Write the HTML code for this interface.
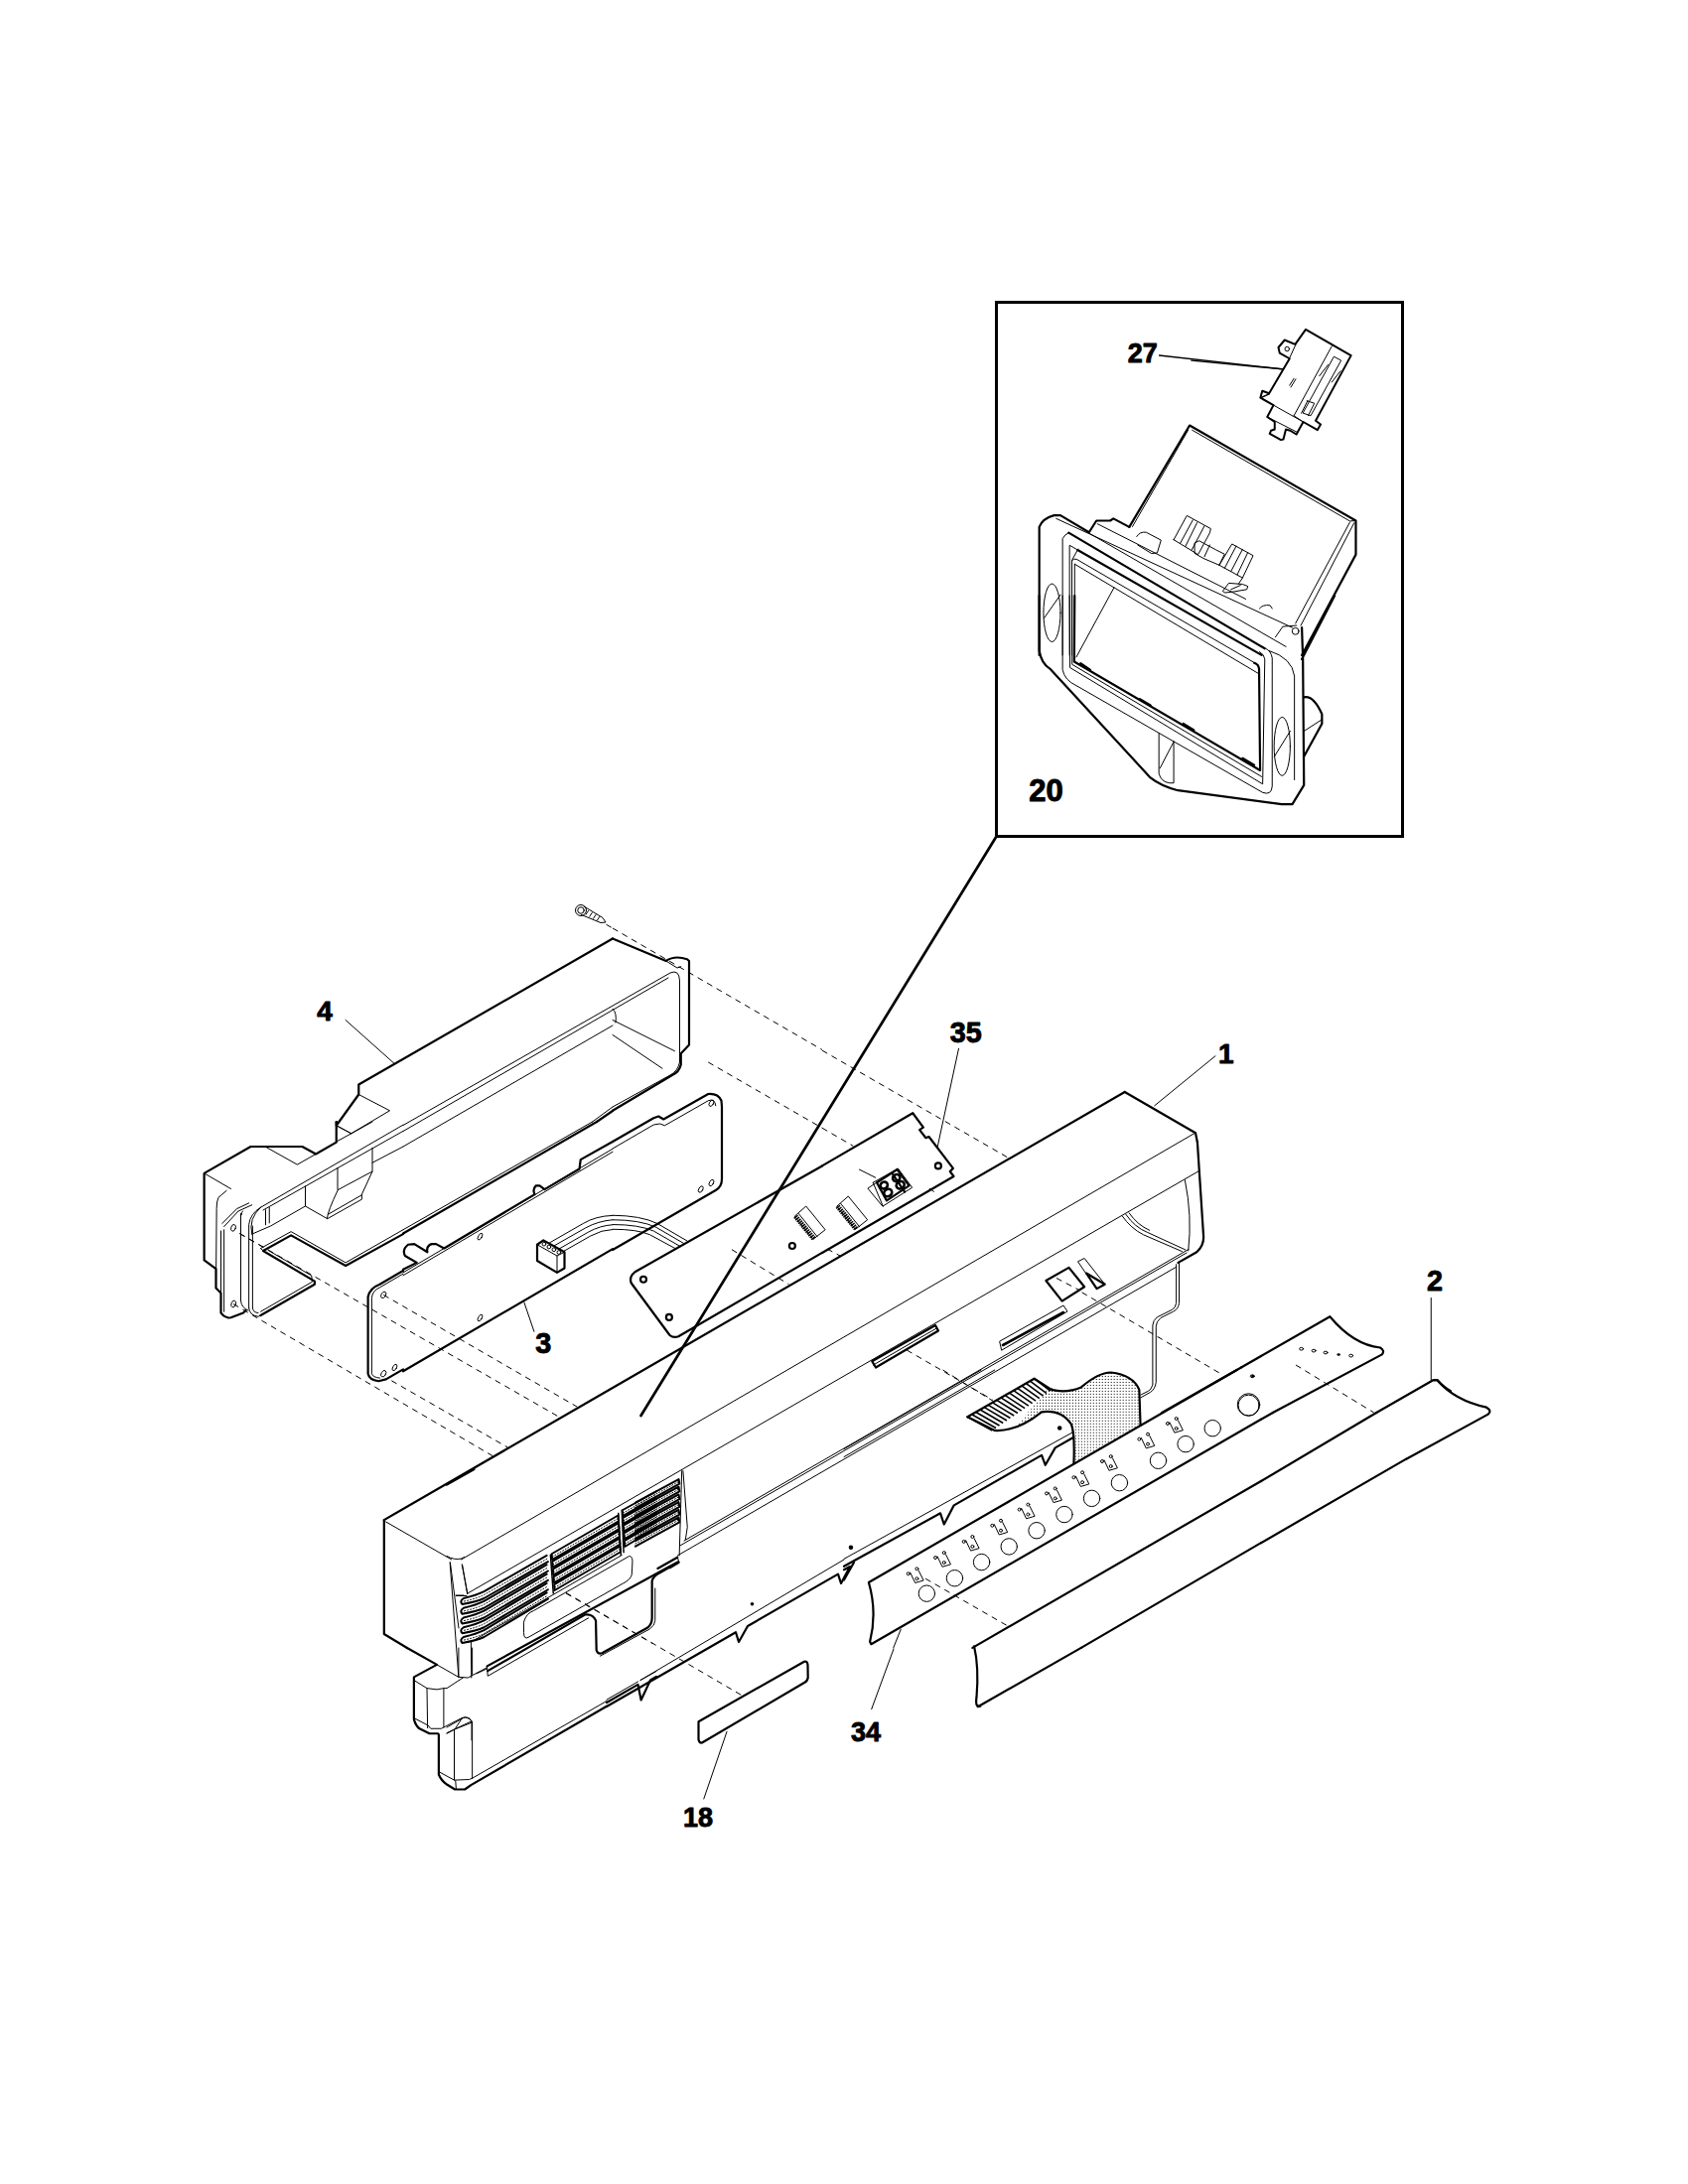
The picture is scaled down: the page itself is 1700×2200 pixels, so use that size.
<!DOCTYPE html>
<html><head><meta charset="utf-8">
<style>
html,body{margin:0;padding:0;background:#fff;}
svg{display:block;}
.k{fill:none;stroke:#000;stroke-width:2.2;stroke-linejoin:round;stroke-linecap:round;vector-effect:non-scaling-stroke;}
.t{fill:none;stroke:#000;stroke-width:1;stroke-linejoin:round;stroke-linecap:round;vector-effect:non-scaling-stroke;}
.d{fill:none;stroke:#000;stroke-width:1;stroke-dasharray:6 5;vector-effect:non-scaling-stroke;}
.lab{font-family:"Liberation Sans",sans-serif;font-weight:bold;fill:#000;stroke:#000;stroke-width:0.9px;vector-effect:non-scaling-stroke;stroke-linejoin:round;}
</style></head>
<body>
<svg width="1700" height="2200" viewBox="0 0 1700 2200">
<defs><pattern id="dots" width="24" height="24" patternUnits="userSpaceOnUse"><rect x="0" y="0" width="8" height="8" fill="#000"/><rect x="12" y="12" width="8" height="8" fill="#000"/></pattern><pattern id="dots4" width="12" height="12" patternUnits="userSpaceOnUse"><rect x="0" y="0" width="4" height="4" fill="#000"/></pattern></defs>
<rect x="0" y="0" width="1700" height="2200" fill="#fff"/>
<!-- INSET BOX -->
<rect x="1003.5" y="304.5" width="409" height="538" fill="none" stroke="#000" stroke-width="3"/>
<!--INSET4X-->
<g transform="translate(995,298) scale(0.25)">
<text class="lab" x="563" y="268" font-size="108">27</text>
<text class="lab" x="165" y="2035" font-size="124">20</text>
<path class="t" style="stroke-width:1.3" d="M690,240 L1185,295"/>
</g>
<!--HOUSING_U-->
<g transform="translate(1020,420) scale(0.21326)">
<path class="k" d="M835,40 L1620,490 L1620,650 L1365,1125 M835,40 L550,520"/>
<path class="t" d="M847,62 L1592,492 L1620,490 M828,62 L565,518 M1592,497 L1335,975 M1612,500 L1360,985"/>
<path class="k" d="M125,1125 L125,520 Q140,480 195,465 L225,465 L360,545 L395,490 L460,490 L475,480 L550,520"/>
<path class="t" d="M205,480 L1320,995 M400,505 L1100,860"/>
<path class="t" d="M585,565 Q600,540 630,545 L700,582 L682,642 L655,645 L590,605"/>
<path class="t" d="M360,549 L1290,1085"/>
<path class="k" d="M264,547 L1190,1094"/>
<path class="t" d="M235,1125 L235,575 Q245,555 264,547"/>
<path class="t" d="M268,1125 L268,606 L306,628"/>
<path class="k" d="M306,628 L1175,1125"/>
<path class="t" d="M279,1125 L279,678 L308,624 M292,1125 L292,695 M279,678 Q288,668 301,672 L1160,1172 M292,695 L1160,1212 M478,806 L300,1134"/>
<ellipse class="t" cx="185" cy="925" rx="40" ry="137"/>
<path class="t" d="M148,950 L225,840"/>
<path class="t" d="M760,580 L822,466 L935,528 L930,548 L875,650 L760,580 Z M790,598 L850,487 M815,612 L870,500 M845,628 L905,515"/>
<path class="t" d="M860,595 L880,585 L960,628 L1000,648 L975,700 L900,668 L860,645 Z M905,660 L930,605"/>
<path class="t" d="M975,700 L1035,600 L1135,655 L1085,760 L975,700 Z M1000,715 L1055,610 M1030,730 L1085,625 M1060,745 L1110,640 M1085,760 L1065,790"/>
<path class="t" d="M992,822 L1020,785 L1085,790 L1110,800 L1105,815 L1045,825 L1005,830 Z M1030,815 L1075,795"/>
<path class="t" d="M1165,905 Q1180,885 1215,890 L1225,905 M1240,1040 L1275,990 L1340,985"/>
<circle class="t" cx="1335" cy="1012" r="16"/>
</g>
<!--HOUSING_L-->
<g transform="translate(1020,600) scale(0.21326)">
<path class="k" d="M125,0 L125,260 Q135,320 175,345 L650,860 Q700,900 780,920 L1270,985 L1320,985 L1375,895 L1370,300 L1365,150 M1520,0 L1365,300"/>
<path class="k" d="M1375,480 Q1420,470 1460,560 L1460,605 L1375,760"/>
<path class="t" d="M1460,585 L1375,640"/>
<path class="t" d="M235,0 L235,350 Q245,400 300,425 L1180,930 Q1222,945 1225,900 L1225,295 Q1220,262 1195,250 M1210,260 Q1320,295 1330,380 L1330,870"/>
<path class="t" d="M268,0 L270,340 L1180,890 L1190,300 Q1188,278 1165,265 M280,0 L280,325 L1175,855"/>
<path class="k" d="M292,0 L290,312 L1168,825 L1163,345 Q1160,325 1140,318"/>
<path class="k" d="M320,320 L365,350 M600,488 L650,518 M805,605 L855,635 M1085,768 L1140,800"/>
<ellipse class="t" cx="1272" cy="712" rx="38" ry="138"/>
<path class="t" d="M1235,760 L1310,640 M690,650 L690,840 Q700,880 740,885 L760,885 L760,690 M695,815 L760,690"/>
</g>
<!--SWITCH8X-->
<g transform="translate(1200,320) scale(0.125)">
<path class="k" style="stroke-width:2" d="M920,95 L1285,305 L1000,830 L1040,860 L1015,905 L900,840 L845,940 L795,910 L760,900 L740,980 L720,985 L630,935 L640,910 L670,900 L670,840 L610,800 L660,705 L555,645 L570,590 L625,610 L790,330 L710,285 L700,240 L750,180 L835,215 Z"/>
<path class="k" style="stroke-width:1.5" d="M625,615 L560,645 M0,345 L735,415"/>
<circle class="t" cx="770" cy="252" r="18"/>
<path class="t" d="M1130,230 L825,790 M840,215 L790,325 M660,705 L900,840 M610,800 L845,920 M825,790 L900,840 M795,910 L840,940"/>
<path class="t" d="M1150,315 L1205,345 L960,790 L900,770 Z M1100,380 L1030,470 M1200,430 L1130,520"/>
<path class="t" d="M800,560 L840,495 M790,545 L825,490"/>
<path class="t" d="M930,670 L990,690 L940,790 M885,770 L935,670"/>
</g>
<!--LEFTEND8X-->
<g transform="translate(195,1130) scale(0.125)">
<path class="k" d="M1150,0 L1150,165 L985,260 L875,200 L460,200 L85,415 L85,1115 L180,1185 L180,1340 L220,1380 L220,1540 Q240,1570 280,1580 L300,1578 L400,1540 L420,1520"/>
<path class="t" d="M85,415 L300,540 M585,205 L835,345 L985,260 M1150,30 L1270,95 L1440,0 M1150,160 L1270,95"/>
<path class="t" d="M540,690 L1688,25 M560,712 L1688,75 M1440,330 L1688,200 M1440,210 L1440,400 M1160,370 L1160,550 L1440,400 L1355,585 L1355,625 L1080,780 M1355,590 L1085,745 M1160,555 Q1080,720 1075,780 M900,520 L900,680 L1075,780 M900,680 L620,840 L470,905 M580,710 L580,830 M610,690 L610,815"/>
<path class="t" d="M470,905 Q440,780 540,690 M445,1500 L445,830 Q455,740 540,690 M475,1500 L475,840"/>
<path class="t" d="M445,1500 Q450,1560 520,1570 L540,1560 M475,1500 Q480,1540 520,1540"/>
<path class="k" d="M560,1040 L785,915 L1225,1160 L1688,905 M560,1040 L975,1285 L975,1310 L540,1560"/>
<path class="t" d="M540,1020 L785,885 L1225,1135 L1688,870 M540,1020 L560,1040 M600,1035 L950,1240 L955,1290 L540,1530"/>
<path class="t" d="M220,880 L220,1540 M245,870 L245,1530 M230,820 L350,700 L445,655 M245,845 L360,720 L470,670 M380,740 L380,1440 Q385,1500 440,1520 M395,720 Q385,730 385,750"/>
<path class="t" d="M265,555 L200,610 Q185,640 185,700 L180,1340"/>
<ellipse class="t" cx="320" cy="855" rx="18" ry="28" transform="rotate(20 320 855)"/>
<ellipse class="t" cx="322" cy="1468" rx="18" ry="28" transform="rotate(20 322 1468)"/>
<path class="d" d="M370,900 L560,1010"/>
<path class="k" d="M1688,1200 L1500,1310 Q1420,1340 1405,1410 L1405,2030 Q1415,2080 1490,2090 L1550,2075 L1688,1995"/>
<path class="t" d="M1688,1225 L1500,1335 Q1440,1360 1435,1420 L1435,2030 Q1445,2060 1500,2065"/>
<ellipse class="t" cx="1530" cy="1395" rx="18" ry="28" transform="rotate(30 1530 1395)"/>
<ellipse class="t" cx="1530" cy="2030" rx="18" ry="28" transform="rotate(30 1530 2030)"/>
<ellipse class="t" cx="1620" cy="1980" rx="15" ry="28" transform="rotate(30 1620 1980)"/>

</g>
<!--T1_4X-->
<g transform="translate(195,880) scale(0.25)">
<text class="lab" x="497" y="590" font-size="112">4</text>
<path class="t" d="M612,590 L808,765"/>
<path class="k" d="M665,850 L1688,262 M665,850 L665,890 L575,1015 L575,1000"/>
<path class="t" d="M665,890 L790,955 L635,1047 L575,1015"/>
<path class="t" d="M844,1100 L1688,612"/>
<circle class="t" cx="1560" cy="148" r="22"/><circle class="t" cx="1560" cy="148" r="13"/>
<path class="t" d="M1572,132 L1648,178 L1660,196 L1640,198 L1562,166 M1590,150 L1580,165 M1605,158 L1595,173 M1620,166 L1610,181 M1635,174 L1625,189"/>
<path class="d" d="M1662,205 L1688,220"/>
</g>
<!--T3_8X-->
<g transform="translate(406,1130) scale(0.125)">
<path class="t" d="M0,870 L1525,0"/>
<path class="k" d="M0,900 L1560,0"/>
<path class="k" d="M0,1190 L110,1135 L15,1080 Q-10,1030 40,990 L90,985 L195,1050 Q185,1000 230,985 L265,985 L330,1020 L1060,585 Q1040,545 1070,515 L1100,515 L1140,545 L1420,380 L1430,305 L1688,160"/>
<path class="t" d="M0,1238 L1688,242 M0,1215 L1688,218"/>
<ellipse class="t" cx="620" cy="925" rx="14" ry="30" transform="rotate(30 620 925)"/>
<ellipse class="t" cx="620" cy="1580" rx="14" ry="30" transform="rotate(30 620 1580)"/>
<path class="k" d="M1080,990 L1130,955 L1300,1050 L1300,1180 L1240,1215 L1080,1120 Z"/>
<path class="t" d="M1080,990 L1240,1080 L1240,1215 M1240,1080 L1300,1050"/>
<circle class="t" cx="1135" cy="985" r="15"/><circle class="t" cx="1175" cy="1008" r="15"/><circle class="t" cx="1215" cy="1030" r="15"/><circle class="t" cx="1255" cy="1052" r="15"/>
<path class="t" d="M1180,975 L1450,820 Q1550,760 1688,755 M1215,1000 L1470,855 Q1570,800 1688,790 M1255,1025 L1490,890 Q1590,835 1688,830 M1290,1045 L1510,920 Q1600,870 1688,868"/>
<path class="k" d="M0,2010 L1688,1025"/>
<path class="t" d="M975,1455 L1055,1690"/>
<text class="lab" x="1065" y="1865" font-size="230">3</text>

</g>
<!--LEADER-->
<path d="M1003.5,842.5 L645.5,1426" stroke="#000" stroke-width="2.7" stroke-linecap="round" fill="none"/>
<!--T2_4X-->
<g transform="translate(617,880) scale(0.25)">
<path class="k" d="M0,262 L215,352 Q250,328 300,345 L308,352 L308,690 L275,725 L275,770 Q268,800 240,812 L0,955"/>
<path class="t" d="M0,545 Q18,560 12,600 M0,590 L250,715 M0,650 L200,785 M215,352 L260,380 L275,375"/>
<path class="d" d="M0,220 L844,710 M385,760 L844,1025"/>
<path class="k" d="M0,1080 L165,985 L185,978 L205,990 L385,888 Q425,885 438,915 L440,940 L440,1230 Q440,1262 415,1276 L0,1516"/>
<path class="t" d="M0,1108 L165,1012 L190,1008 L210,1015 L385,915 Q412,905 415,935"/>
<ellipse class="t" cx="398" cy="925" rx="8" ry="14" transform="rotate(30 398 925)"/>
<ellipse class="t" cx="355" cy="1272" rx="8" ry="14" transform="rotate(30 355 1272)"/>
<ellipse class="t" cx="398" cy="1246" rx="8" ry="14" transform="rotate(30 398 1246)"/>
<path class="t" d="M0,1377 Q115,1378 180,1410 L300,1480 M0,1395 Q110,1395 175,1425 L290,1492 M0,1414 Q105,1414 165,1440 L272,1502 M0,1433 Q100,1433 150,1455 L255,1512"/>


<path class="k" d="M1045,1965 L1300,1820 L1312,1842 L1060,1990 Z"/>
<path class="t" d="M1050,1980 L1305,1832"/>
<path class="d" d="M1185,1920 L1530,2120"/>
</g>
<!--B35L_8X-->
<g transform="translate(617,1180) scale(0.125)">
<path class="k" d="M1688,-44 L180,810 Q130,850 150,900 L460,1320 Q490,1345 530,1330 L1688,655"/>
<circle class="k" cx="248" cy="870" r="24"/>
<circle class="k" cx="455" cy="1175" r="24"/>
<circle class="k" cx="1447" cy="600" r="24"/>
<path class="d" d="M960,630 L1420,910"/>
</g>
<!--B35R_8X-->
<g transform="translate(828,1000) scale(0.125)">
<path class="d" d="M0,465 L1490,1325 M0,1090 L250,1235"/>
<path class="k" d="M0,1395 L730,970 L815,1085 L785,1105 L835,1170 L860,1160 L1055,1415 L1030,1440 L1060,1480 L0,2096"/>
<path class="t" d="M1100,450 L930,1240"/>
<text class="lab" x="1030" y="400" font-size="230">35</text>
<circle class="k" cx="935" cy="1395" r="24"/>
<path class="t" d="M370,1575 L610,1415 L725,1570 L490,1720 Z M410,1530 L490,1720 M410,1530 L605,1420"/>
<path class="k" d="M440,1530 L605,1425 L700,1555 L520,1675 Z M570,1465 L665,1605"/>
<g style="stroke-width:2.6"><ellipse class="k" style="stroke-width:2.6" cx="498" cy="1552" rx="30" ry="27" transform="rotate(-30 498 1552)"/><ellipse class="k" style="stroke-width:2.6" cx="530" cy="1612" rx="33" ry="29" transform="rotate(-30 530 1612)"/>
<ellipse class="k" style="stroke-width:2.6" cx="598" cy="1492" rx="30" ry="27" transform="rotate(-30 598 1492)"/><ellipse class="k" style="stroke-width:2.6" cx="630" cy="1550" rx="33" ry="29" transform="rotate(-30 630 1550)"/></g>
<path class="t" d="M300,1425 L430,1490"/>
<path class="t" d="M120,1720 L210,1640 L365,1830 L270,1905 Z M150,1700 L300,1885"/>
<path d="M125,1722 L275,1905" stroke="#000" stroke-width="5" stroke-dasharray="1.5 0.8" fill="none" vector-effect="non-scaling-stroke"/>
<g transform="translate(-340,80)">
<path class="t" d="M120,1720 L210,1640 L365,1830 L270,1905 Z M150,1700 L300,1885"/>
<path d="M125,1722 L275,1905" stroke="#000" stroke-width="5" stroke-dasharray="1.5 0.8" fill="none" vector-effect="non-scaling-stroke"/>
</g>
</g>
<!--T4_4X-->
<g transform="translate(1039,880) scale(0.25)">
<text class="lab" x="752" y="762" font-size="112">1</text>
<path class="t" d="M740,735 L495,935"/>
<path class="k" d="M375,880 L660,1045 L667,1080"/>

</g>
<!--T4A_8X-->
<g transform="translate(1039,1150) scale(0.125)">

<path class="k" d="M1335,0 L1385,770 Q1385,840 1330,890 L1180,975"/>
<path class="t" d="M1235,310 Q1295,600 1262,880 M730,600 Q800,700 900,750 L1212,885 M758,585 Q830,690 930,730 L1240,872 M785,575 Q850,670 950,715"/>


<path class="k" style="stroke-width:2.2" d="M115,1120 L300,1015 L425,1170 L245,1285 Z"/>
<path class="d" d="M200,1100 L380,1195"/>
<path class="t" d="M375,965 L425,940 L590,1150 L525,1185 Z"/>
<path class="k" d="M440,1060 L590,1150 L525,1185 Z"/>
<path class="t" d="M1165,990 L1165,1300 Q1160,1340 1130,1355 L1010,1415 Q978,1440 975,1480 L975,1960 Q962,2000 940,2010 L880,2040 M1188,980 L1188,1300 Q1182,1350 1140,1370 L1040,1420 Q1002,1450 1002,1490 L1002,1940 Q992,2000 955,2020 L880,2062"/>
<path class="d" d="M405,1215 L1540,1880"/>
<path class="k" d="M1050,2184 L1688,1820"/>
</g>
<!--T4B_8X-->
<g transform="translate(1250,1150) scale(0.125)">
<text class="lab" x="1495" y="1200" font-size="230">2</text>
<path class="t" d="M1530,1260 L1530,1920"/>
<path class="k" d="M1090,2184 L1550,1920 L1580,1920 C1620,1965 1650,1990 1688,2010"/>
<path class="k" d="M0,1820 L715,1410 C790,1500 930,1640 1120,1660 Q1160,1685 1135,1715 L255,2184"/>
<ellipse class="t" cx="485" cy="1670" rx="16" ry="11"/><ellipse class="t" cx="585" cy="1685" rx="16" ry="11"/><ellipse class="t" cx="680" cy="1700" rx="16" ry="11"/><ellipse cx="785" cy="1715" rx="14" ry="10"/><ellipse class="t" cx="885" cy="1725" rx="16" ry="11"/>
<ellipse class="t" cx="90" cy="1890" rx="16" ry="11"/>
<circle class="t" cx="60" cy="2120" r="90"/>
<path class="d" d="M440,1800 L1070,2184"/>
</g>
<!--V8-->
<g transform="translate(450,1480) scale(0.125)">
<path class="k" d="M0,125 L220,0"/>
<path class="t" d="M0,700 Q60,735 120,720 L140,708 M25,750 L95,1675 M125,770 L165,1005 M75,1020 L160,1020 M195,1395 L198,1680"/>
<path class="t" d="M195,1392 L1410,692"/>
<path class="k" style="stroke-width:2" d="M805,695 L300,985 Q240,1015 135,1040 Q100,1062 125,1088 Q240,1068 300,1040 L815,745 M805,770 L300,1063 Q240,1093 135,1118 Q100,1140 125,1166 Q240,1146 300,1118 L815,820 M805,845 L300,1141 Q240,1171 135,1196 Q100,1218 125,1244 Q240,1224 300,1196 L815,895 M805,920 L300,1219 Q240,1249 135,1274 Q100,1296 125,1322 Q240,1302 300,1274 L815,970 M805,995 L300,1297 Q240,1327 135,1352 Q100,1374 125,1400 Q240,1380 300,1352 L815,1045"/>
<path class="t" style="stroke-dasharray:1 2" d="M140,1064 Q240,1042 300,1012 L810,720 M140,1142 Q240,1120 300,1090 L810,795 M140,1220 Q240,1198 300,1168 L810,870 M140,1298 Q240,1276 300,1246 L810,945 M140,1376 Q240,1354 300,1324 L810,1020"/>
<path class="k" style="stroke-width:2" d="M1380,372 L845,682 L848,728 L1384,418 Z M1384,434 L850,744 L853,790 L1388,480 Z M1388,496 L855,806 L858,852 L1392,542 Z M1392,558 L860,868 L863,914 L1396,604 Z M1396,620 L865,930 L868,976 L1400,666 Z"/>
<path class="t" style="stroke-dasharray:1 2" d="M850,705 L1382,395 M855,767 L1386,457 M860,829 L1390,519 M865,891 L1394,581 M870,953 L1398,643"/>
<path class="k" style="stroke-width:2" d="M1688,178 L1415,330 L1418,376 L1688,222 M1688,240 L1419,392 L1422,438 L1688,284 M1688,302 L1423,454 L1426,500 L1688,346 M1688,364 L1427,516 L1430,562 L1688,408 M1688,426 L1431,578 L1434,624 L1688,470"/>
<path class="t" style="stroke-dasharray:1 2" d="M1420,353 L1688,200 M1424,415 L1688,262 M1428,477 L1688,324 M1432,539 L1688,386 M1436,601 L1688,448"/>
<path class="k" style="stroke-width:1.5" d="M835,690 L858,1000 M1382,355 L1402,690 M1410,330 L1425,670"/>
<path class="t" d="M620,1230 Q640,1160 700,1140 L1470,700 Q1500,700 1495,760 L1490,850 Q1480,890 1420,920 L665,1350 Q620,1380 620,1320 Z"/>

<path class="d" d="M960,1000 L1660,1405"/>
<path class="k" d="M1288,1880 L1540,1735 L1565,1860 L1640,1700 L1688,1672"/>
<path class="t" d="M1288,1857 L1540,1712 M1560,1700 L1688,1628"/>
<path class="t" d="M0,2080 L130,2005 Q165,1990 200,2030 L200,2184 M0,2125 L200,2030 M60,2100 L60,2184"/>
</g>
<!--L8-->
<g transform="translate(400,1660) scale(0.125)">
<path class="k" d="M80,0 L320,135 L135,235 L135,575 Q150,630 180,650 L260,690 L330,690 L335,700 L335,1020 Q355,1070 400,1100 L465,1140 L545,1140 L595,1105 L1688,470"/>
<path class="t" d="M320,135 L495,235 L570,240 L720,160 M495,0 L495,235 M605,0 L605,215"/>
<path class="t" d="M135,260 L240,325 L320,335 L375,325 L400,325 L530,240 M240,325 L245,645 M375,325 L375,640"/>
<path class="t" d="M145,570 L250,625 L270,650 L355,650 L375,640 L520,565 Q545,550 580,565 L605,600 L605,1050 M465,655 L520,570 M400,690 L465,655 L605,600"/>
<path class="t" d="M460,660 L460,1065 M340,1000 L460,1065 L580,1060 L605,1050 M470,1070 L475,1135 M605,1050 L1688,428"/>
</g>
<!--LAB18-->
<text class="lab" x="688" y="1840" font-size="27">18</text>
<path class="t" d="M732,1744.4 L708.8,1812"/>
<path class="k" d="M703.5,1734.2 L810,1673.7 Q813,1673 813.5,1677 L813.7,1690 Q813,1694 810,1695 L707,1755.5 Q704,1756 703.5,1752 Z"/>
<!--S8-->
<g transform="translate(480,1600) scale(0.12441)">
<path class="k" d="M85,630 L1628,-213"/>
<path class="k" d="M90,668 L880,212 Q940,205 965,260 L970,500 Q980,535 1015,525 L1385,318 Q1420,290 1420,240 L1420,-60 Q1430,-100 1480,-125 L1635,-212"/>
<path class="t" d="M85,630 L90,710 L905,240 M1000,548 L1400,330 Q1445,300 1445,260 L1445,0 M0,690 L85,650"/>
</g>
<!--TL1-->
<path class="k" d="M386.8,1531.1 L386.8,1646 L410,1660"/>
<path class="t" d="M388.7,1533 L454.6,1570.9 M453.4,1574 L462,1640 M465.2,1575.9 L470.8,1605.1 M459,1607 L467,1607"/>
<!--R8-->
<g transform="translate(640,1440) scale(0.12441)">

<path class="k" style="stroke-width:2" d="M0,592 L350,402 L356,440 L0,636 M0,654 L350,464 L356,502 L0,698 M0,716 L350,526 L356,564 L0,760 M0,778 L350,588 L356,626 L0,822 M0,840 L350,650 L356,688 L0,884 M0,902 L350,712 L356,750 L0,946"/>
<path class="t" style="stroke-dasharray:1 2" d="M0,614 L352,421 M0,676 L352,483 M0,738 L352,545 M0,800 L352,607 M0,862 L352,669 M0,924 L352,731"/>
<path class="t" d="M375,335 L355,1020 M385,335 L420,790 L405,890 "/>
<path class="k" d="M180,1125 L340,1035"/>
<path class="t" d="M340,1035 L355,1080 L280,1125"/>
</g>
<!--GLOBAL LONG LINES-->
<path class="k" d="M386.8,1531.1 L617,1398 L1132.75,1100"/>
<path class="t" d="M464.6,1570.9 L1204,1141"/>
<path class="t" d="M470.6,1605.25 L1207.75,1179.4"/>
<path class="t" d="M684.8,1557 L1195,1262 M689,1552 L1197,1258.5 M682.3,1567 L1184.6,1276.25"/>
<path class="d" d="M386.25,1304.4 L581,1417 M241.25,1242.5 L562.3,1426.9 M394.3,1390.8 L511.3,1458 M235,1313.5 L496.3,1466.7"/>
<path class="d" d="M570,1604.4 L749.7,1709.3"/>
<text class="lab" x="857" y="1754" font-size="27">34</text>
<path class="t" d="M877.7,1721.7 L900,1661"/>
<!--P34-->
<g transform="translate(850,1380) scale(0.24881)">
<path class="k" d="M1590,0 L100,860 Q135,980 105,1100 L110,1110 L1688,200"/>
<circle class="t" cx="335" cy="905" r="33"/><circle class="t" cx="448" cy="843" r="33"/><circle class="t" cx="557" cy="778" r="33"/><circle class="t" cx="668" cy="715" r="33"/><circle class="t" cx="780" cy="650" r="33"/><circle class="t" cx="892" cy="585" r="33"/><circle class="t" cx="1003" cy="520" r="33"/><circle class="t" cx="1115" cy="457" r="33"/><circle class="t" cx="1272" cy="367" r="33"/><circle class="t" cx="1383" cy="300" r="33"/><circle class="t" cx="1492" cy="236" r="33"/><circle class="t" cx="1638" cy="143" r="42"/>
<path class="t" d="M268,820 L288,862 L322,852 L302,812"/><circle class="t" cx="260" cy="825" r="6"/><circle class="t" cx="295" cy="805" r="6"/><circle cx="295" cy="845" r="6" class="t"/><path class="t" d="M378,755 L398,797 L432,787 L412,747"/><circle class="t" cx="370" cy="760" r="6"/><circle class="t" cx="405" cy="740" r="6"/><circle cx="405" cy="780" r="6" class="t"/><path class="t" d="M493,690 L513,732 L547,722 L527,682"/><circle class="t" cx="485" cy="695" r="6"/><circle class="t" cx="520" cy="675" r="6"/><circle cx="520" cy="715" r="6" class="t"/><path class="t" d="M608,625 L628,667 L662,657 L642,617"/><circle class="t" cx="600" cy="630" r="6"/><circle class="t" cx="635" cy="610" r="6"/><circle cx="635" cy="650" r="6" class="t"/><path class="t" d="M718,560 L738,602 L772,592 L752,552"/><circle class="t" cx="710" cy="565" r="6"/><circle class="t" cx="745" cy="545" r="6"/><circle cx="745" cy="585" r="6" class="t"/><path class="t" d="M828,495 L848,537 L882,527 L862,487"/><circle class="t" cx="820" cy="500" r="6"/><circle class="t" cx="855" cy="480" r="6"/><circle cx="855" cy="520" r="6" class="t"/><path class="t" d="M938,430 L958,472 L992,462 L972,422"/><circle class="t" cx="930" cy="435" r="6"/><circle class="t" cx="965" cy="415" r="6"/><circle cx="965" cy="455" r="6" class="t"/><path class="t" d="M1053,365 L1073,407 L1107,397 L1087,357"/><circle class="t" cx="1045" cy="370" r="6"/><circle class="t" cx="1080" cy="350" r="6"/><circle cx="1080" cy="390" r="6" class="t"/><path class="t" d="M1203,275 L1223,317 L1257,307 L1237,267"/><circle class="t" cx="1195" cy="280" r="6"/><circle class="t" cx="1230" cy="260" r="6"/><circle cx="1230" cy="300" r="6" class="t"/><path class="t" d="M1318,212 L1338,254 L1372,244 L1352,204"/><circle class="t" cx="1310" cy="217" r="6"/><circle class="t" cx="1345" cy="197" r="6"/><circle cx="1345" cy="237" r="6" class="t"/>
<path class="d" d="M330,845 L660,1035"/>
<circle cx="1655" cy="25" r="6"/>
<path class="k" d="M520,1125 L1688,450 M960,1125 L1688,700"/>
<path class="t" d="M200,1125 L230,1050"/>
<path class="t" d="M0,320 L555,0 M0,352 L610,0"/>
<path class="d" d="M400,0 L610,130"/>
<path class="k" d="M0,795 L390,580 L405,625 L445,548 L800,345 L815,385 L855,315 L930,272"/>
<path class="t" d="M0,765 L930,250"/>
<circle cx="28" cy="718" r="9"/><circle cx="873" cy="235" r="9"/>
<path class="k" d="M0,850 L40,780"/>
<path d="M830,70 Q900,95 960,70 Q1030,10 1080,10 Q1170,20 1195,80 L1200,225 L930,380 Q935,260 920,220 Q880,160 800,170 Q760,200 700,225 Z" fill="url(#dots4)"/>
<path class="k" d="M500,190 L770,35 L840,80 Q900,95 960,70 Q1030,10 1080,10 Q1170,20 1195,80 L1200,225"/>
<path class="k" d="M500,190 L610,245 Q700,250 800,170 Q880,160 920,220 Q935,260 930,380"/>
<path class="k" style="stroke-width:1.6;stroke-linecap:butt" d="M500,190 L600,245 M517,180 L615,235 M534,171 L629,225 M551,161 L644,215 M568,151 L659,205 M584,142 L673,195 M601,132 L688,185 M618,122 L703,175 M635,112 L718,165 M652,103 L732,155 M669,93 L747,145 M686,83 L762,135 M702,74 L776,125 M719,64 L791,115 M736,54 L806,105 M753,45 L820,95 M770,35 L835,85"/>
</g>
<!--P2-->
<g transform="translate(940,1560) scale(0.24881)">
<path class="k" d="M165,395 Q185,480 175,600 Q168,645 190,638"/>
</g>
<g transform="translate(1230,1280) scale(0.16588)">
<path class="k" d="M1290,665 L1310,665 Q1420,790 1610,830 Q1645,850 1620,872 L1120,1145"/>
</g>
<path class="k" d="M1270,1492 L1386.25,1423 M1270,1554.2 L1415.8,1469.9"/>
<!--LIP-->
<path class="k" d="M611,1719 L741,1644.2 L744,1654 L753,1638 L844,1585.6 L847,1595 L856,1578 L850,1581.2"/>
<path class="t" d="M645,1692.5 L850,1571"/>
<path class="k" d="M984.8,1719.2 L1088.85,1659.9"/>
<path class="k" d="M601,1130 L617,1119"/>
<path class="t" d="M596.6,1130 L617,1115"/>
<!--SLOTB-->
<path class="k" style="stroke-width:2.6" d="M1010,1355 L1071,1322"/>
<path class="t" d="M1007,1351 L1071,1315 L1075,1321 L1009,1360 Z"/>
<path class="d" d="M833,1258 L846,1265 M936,1197 L944,1203"/>
<path class="k" d="M1270,1429.8 L1282,1423"/>
<circle cx="757.5" cy="1615.8" r="1.8"/>
<path class="t" d="M406,1133.5 L675,980 Q684,976 684.5,988 L684.5,1070 Q682.5,1079 675,1083 L617,1115 M406,1139.5 L673,985"/>
</svg>
</body></html>
